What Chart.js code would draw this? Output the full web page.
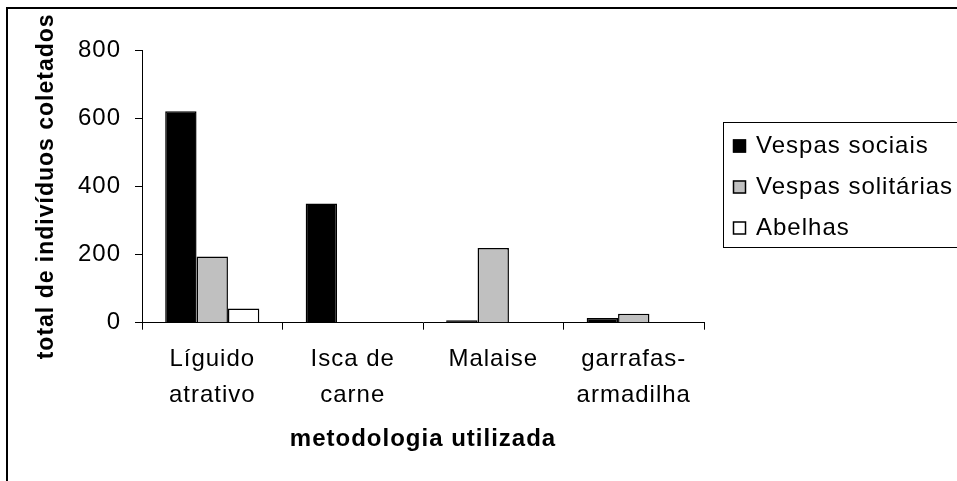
<!DOCTYPE html>
<html>
<head>
<meta charset="utf-8">
<script src="https://cdn.jsdelivr.net/npm/chart.js@4/dist/chart.umd.min.js"></script>
<style>
  html, body { margin: 0; padding: 0; background: #fff; }
  #wrap { position: absolute; left: 0; top: 0; width: 957px; height: 481px; }
</style>
</head>
<body>
<div id="wrap"><canvas id="c" width="957" height="481"></canvas></div>
<script>
// ---- data ----
const categories = [["Líguido", "atrativo"], ["Isca de", "carne"], ["Malaise"], ["garrafas-", "armadilha"]];
const seriesNames = ["Vespas sociais", "Vespas solitárias", "Abelhas"];
const vespasSociais = [620, 350, 7, 14];
const vespasSolitarias = [194, 0, 219, 26];
const abelhas = [42, 0, 0, 0];
const yTicks = [0, 200, 400, 600, 800];
const yTitle = "total de indivíduos coletados";
const xTitle = "metodologia utilizada";
const seriesColors = ["#000000", "#c0c0c0", "#ffffff"];

const FONT = "'Liberation Sans', Arial, sans-serif";
const SPACING = "1px";

function setSpacing(chart) {
  if ('letterSpacing' in chart.ctx) chart.ctx.letterSpacing = SPACING;
}

const framePlugin = {
  id: 'frame',
  beforeUpdate(chart) { setSpacing(chart); },
  beforeLayout(chart) { setSpacing(chart); },
  beforeDraw(chart) {
    setSpacing(chart);
    const ctx = chart.ctx;
    ctx.save();
    ctx.fillStyle = '#fff';
    ctx.fillRect(0, 0, chart.width, chart.height);
    ctx.fillStyle = '#000';
    ctx.fillRect(6, 7, chart.width, 2);
    ctx.fillRect(6, 7, 2, chart.height);
    ctx.restore();
  }
};

const legendPlugin = {
  id: 'boxLegend',
  afterDraw(chart) {
    const ctx = chart.ctx;
    ctx.save();
    setSpacing(chart);
    const left = 723.5, top = 122.5;
    ctx.strokeStyle = '#000';
    ctx.lineWidth = 1;
    ctx.strokeRect(left, top, 400, 125);
    ctx.font = "24px " + FONT;
    ctx.textBaseline = 'middle';
    ctx.textAlign = 'left';
    chart.data.datasets.forEach((ds, i) => {
      const cy = 146 + i * 41;
      ctx.fillStyle = ds.backgroundColor;
      ctx.fillRect(733, cy - 6.5, 13, 13);
      ctx.strokeStyle = '#000';
      ctx.lineWidth = 1.5;
      ctx.strokeRect(733.5, cy - 6, 12, 12);
      ctx.fillStyle = '#000';
      ctx.fillText(ds.label, 756, cy);
    });
    ctx.restore();
  }
};

new Chart(document.getElementById('c'), {
  type: 'bar',
  data: {
    labels: categories,
    datasets: [
      { label: seriesNames[0], data: vespasSociais, backgroundColor: seriesColors[0] },
      { label: seriesNames[1], data: vespasSolitarias, backgroundColor: seriesColors[1] },
      { label: seriesNames[2], data: abelhas, backgroundColor: seriesColors[2] }
    ]
  },
  options: {
    responsive: false,
    devicePixelRatio: 1,
    animation: false,
    layout: { padding: { left: 0, top: 50, right: 253, bottom: 0 } },
    datasets: {
      bar: {
        borderColor: '#000',
        borderWidth: 1.5,
        categoryPercentage: 0.67,
        barPercentage: 1.0
      }
    },
    plugins: {
      legend: { display: false },
      tooltip: { enabled: false },
      title: { display: false }
    },
    scales: {
      x: {
        offset: true,
        grid: { display: true, offset: true, drawOnChartArea: false, drawTicks: true, tickLength: 7, color: '#000', lineWidth: 1 },
        border: { display: true, color: '#000', width: 1 },
        ticks: {
          color: '#000',
          padding: 12,
          maxRotation: 0,
          autoSkip: false,
          font: { family: FONT, size: 24, lineHeight: 1.5 }
        },
        title: {
          display: true,
          text: xTitle,
          color: '#000',
          font: { family: FONT, size: 24, weight: 'bold', lineHeight: 1.2 },
          padding: { top: 0, bottom: 27 }
        },
        afterFit(scale) { scale.height = 158.3; }
      },
      y: {
        min: 0,
        max: 800,
        afterBuildTicks(scale) { scale.ticks = yTicks.map(v => ({ value: v })); },
        grid: { display: true, drawOnChartArea: false, drawTicks: true, tickLength: 7, color: '#000', lineWidth: 1 },
        border: { display: true, color: '#000', width: 1 },
        ticks: {
          color: '#000',
          padding: 14,
          font: { family: FONT, size: 24 }
        },
        title: {
          display: true,
          text: yTitle,
          color: '#000',
          font: { family: FONT, size: 23, weight: 'bold', lineHeight: 1.2 },
          padding: { top: 33, bottom: 0 }
        },
        afterFit(scale) { scale.width = 142; }
      }
    }
  },
  plugins: [framePlugin, legendPlugin]
});
</script>
</body>
</html>
